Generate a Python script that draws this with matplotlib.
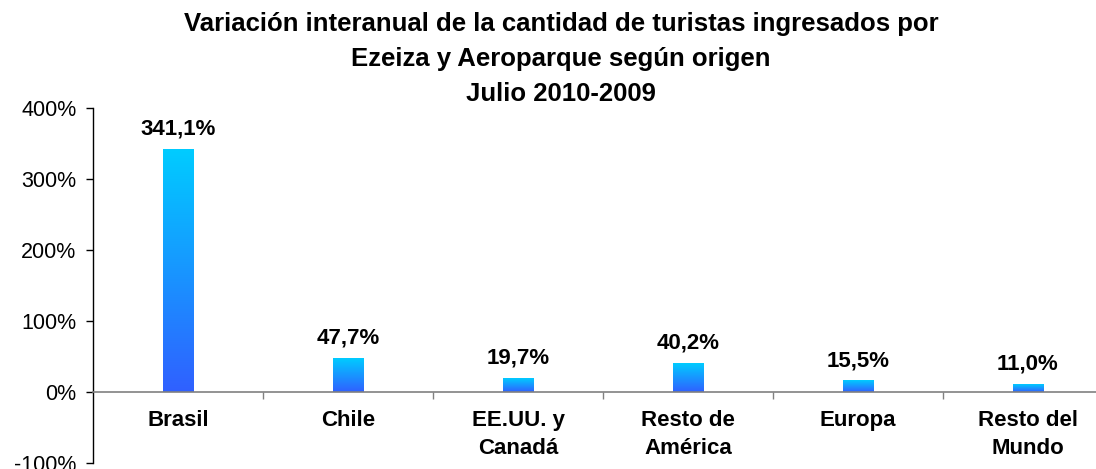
import numpy as np
import matplotlib
matplotlib.use("Agg")
import matplotlib.pyplot as plt
from matplotlib.colors import LinearSegmentedColormap

plt.rcParams['font.family'] = ['Liberation Sans', 'DejaVu Sans']

categories = ["Brasil", "Chile", "EE.UU. y\nCanadá", "Resto de\nAmérica", "Europa", "Resto del\nMundo"]
values = [341.1, 47.7, 19.7, 40.2, 15.5, 11.0]
value_labels = ["341,1%", "47,7%", "19,7%", "40,2%", "15,5%", "11,0%"]
yticks = [-100, 0, 100, 200, 300, 400]
ytick_labels = ["-100%", "0%", "100%", "200%", "300%", "400%"]
title = "Variación interanual de la cantidad de turistas ingresados por\nEzeiza y Aeroparque según origen\nJulio 2010-2009"

W, H = 1096, 469
fig = plt.figure(figsize=(W / 100, H / 100), dpi=100)
ax = fig.add_axes([93 / W, (H - 463.3) / H, 1020 / W, 355 / H])

x = np.arange(len(categories))
bars = ax.bar(x, values, width=0.18, color='none', edgecolor='none', zorder=2)

cmap = LinearSegmentedColormap.from_list("grad", ["#00CCFF", "#3060FF"])
grad = np.linspace(0, 1, 256).reshape(-1, 1)
for b in bars:
    x0, w, h = b.get_x(), b.get_width(), b.get_height()
    ax.imshow(grad, cmap=cmap, aspect='auto', extent=[x0, x0 + w, 0, h],
              origin='upper', zorder=2, interpolation='bilinear')

ax.set_xlim(-0.5, len(categories) - 0.5)
ax.set_ylim(-100, 400)

# value labels
for b, lab in zip(bars, value_labels):
    ax.annotate(lab, (b.get_x() + b.get_width() / 2, b.get_height()),
                xytext=(0, 11), textcoords='offset points',
                ha='center', va='baseline', fontsize=16, fontweight='bold', color='black')

# spines
for s in ['top', 'right']:
    ax.spines[s].set_visible(False)
ax.spines['bottom'].set_position(('data', 0))
ax.spines['bottom'].set_color('#808080')
ax.spines['bottom'].set_linewidth(1.2)
ax.spines['bottom'].set_zorder(3)
ax.spines['left'].set_color('black')
ax.spines['left'].set_linewidth(1.0)

ax.set_yticks(yticks)
ax.set_yticklabels(ytick_labels, fontsize=15.5)
ax.tick_params(axis='y', direction='out', length=5, width=1, pad=7, colors='black')

ax.set_xticks(np.arange(len(categories) - 1) + 0.5)
ax.set_xticklabels([])
ax.tick_params(axis='x', which='major', direction='out', length=5, width=1, color='#808080')
ax.set_xticks(x, minor=True)
ax.set_xticklabels(categories, minor=True, fontsize=16, fontweight='bold', linespacing=1.4)
ax.tick_params(axis='x', which='minor', length=0, pad=13)

fig.text(561 / W, 1 - 12 / H, title, ha='center', va='top', fontsize=18.5,
         fontweight='bold', linespacing=1.58)

fig.savefig("out.png", dpi=100)
